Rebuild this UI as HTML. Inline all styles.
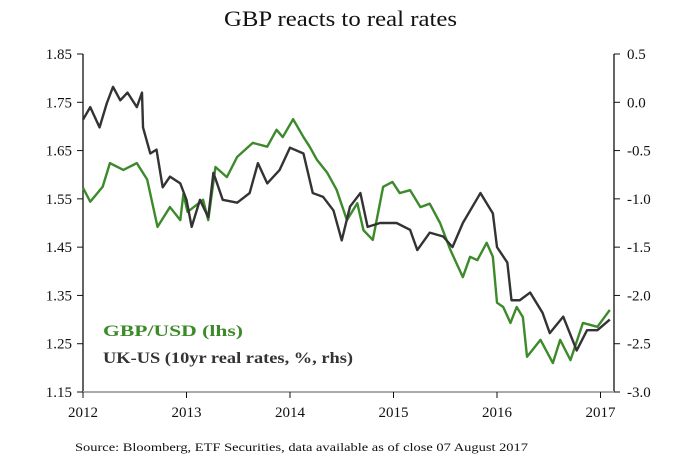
<!DOCTYPE html>
<html><head><meta charset="utf-8"><style>
body{margin:0;background:#fff;}
svg text{font-family:"Liberation Serif",serif;}
</style></head><body>
<svg width="683" height="468" xmlns="http://www.w3.org/2000/svg">
<text x="224" y="26" textLength="233" lengthAdjust="spacingAndGlyphs" font-size="22" fill="#111">GBP reacts to real rates</text>
<g id="axes"></g>
<g id="series"></g>
<text x="103" y="336" textLength="140" lengthAdjust="spacingAndGlyphs" font-size="16" font-weight="bold" fill="#3c8a2a">GBP/USD (lhs)</text>
<text x="103" y="363" textLength="250" lengthAdjust="spacingAndGlyphs" font-size="16" font-weight="bold" fill="#333">UK-US (10yr real rates, %, rhs)</text>
<text x="75" y="451" textLength="453" lengthAdjust="spacingAndGlyphs" font-size="12" fill="#111">Source: Bloomberg, ETF Securities, data available as of close 07 August 2017</text>
</svg>
<script>
const xTicks=[2012,2013,2014,2015,2016,2017];
const leftTicks=[1.15,1.25,1.35,1.45,1.55,1.65,1.75,1.85];
const rightTicks=[-3.0,-2.5,-2.0,-1.5,-1.0,-0.5,0.0,0.5];
const gbpDates=[2012.00,2012.07,2012.19,2012.26,2012.39,2012.52,2012.62,2012.72,2012.84,2012.94,2012.97,2013.01,2013.16,2013.21,2013.28,2013.39,2013.49,2013.64,2013.78,2013.87,2013.93,2014.03,2014.13,2014.19,2014.26,2014.36,2014.45,2014.55,2014.65,2014.71,2014.80,2014.90,2014.99,2015.06,2015.16,2015.26,2015.35,2015.45,2015.55,2015.67,2015.74,2015.81,2015.90,2015.96,2016.00,2016.06,2016.13,2016.19,2016.25,2016.29,2016.42,2016.54,2016.61,2016.71,2016.83,2016.97,2017.09];
const gbpValues=[1.573,1.544,1.575,1.624,1.61,1.624,1.59,1.492,1.533,1.506,1.56,1.523,1.548,1.506,1.616,1.595,1.637,1.666,1.658,1.693,1.678,1.715,1.678,1.658,1.631,1.604,1.569,1.506,1.541,1.485,1.465,1.575,1.585,1.562,1.568,1.533,1.54,1.50,1.444,1.388,1.43,1.423,1.459,1.43,1.335,1.326,1.293,1.326,1.305,1.223,1.258,1.21,1.258,1.216,1.293,1.285,1.32];
const rateDates=[2012.00,2012.07,2012.16,2012.23,2012.29,2012.36,2012.43,2012.52,2012.57,2012.58,2012.65,2012.71,2012.77,2012.84,2012.94,2013.00,2013.05,2013.13,2013.21,2013.26,2013.35,2013.49,2013.61,2013.69,2013.78,2013.90,2014.00,2014.13,2014.22,2014.32,2014.42,2014.50,2014.58,2014.68,2014.75,2014.87,2015.03,2015.16,2015.23,2015.35,2015.48,2015.57,2015.67,2015.84,2015.96,2016.00,2016.10,2016.14,2016.22,2016.32,2016.44,2016.51,2016.64,2016.77,2016.87,2016.97,2017.09];
const rateValues=[-0.18,-0.05,-0.26,-0.01,0.16,0.02,0.10,-0.05,0.10,-0.26,-0.53,-0.49,-0.88,-0.77,-0.84,-1.01,-1.29,-1.01,-1.19,-0.73,-1.01,-1.04,-0.94,-0.63,-0.84,-0.70,-0.47,-0.53,-0.94,-0.98,-1.12,-1.43,-1.08,-0.94,-1.29,-1.25,-1.25,-1.32,-1.53,-1.35,-1.39,-1.50,-1.25,-0.94,-1.15,-1.50,-1.66,-2.05,-2.05,-1.97,-2.18,-2.39,-2.22,-2.57,-2.36,-2.36,-2.25];
const NS="http://www.w3.org/2000/svg";
const X0=83,X1=614,Y0=54,Y1=392;
const xs=d=>X0+(d-2012)*103.5;
const yl=v=>Y0+(1.85-v)/(0.7)*(Y1-Y0);
const yr=v=>Y0+(0.5-v)/(3.5)*(Y1-Y0);
function mk(tag,attrs,parent){const e=document.createElementNS(NS,tag);for(const k in attrs)e.setAttribute(k,attrs[k]);parent.appendChild(e);return e;}
const ax=document.getElementById('axes');
let e=mk('line',{x1:X0,y1:Y0,x2:X0,y2:Y1,stroke:'#111','stroke-width':1.3},ax);


e=mk('line',{x1:X1,y1:Y0,x2:X1,y2:Y1,stroke:'#111','stroke-width':1.3},ax);


e=mk('line',{x1:X0,y1:Y1,x2:X1,y2:Y1,stroke:'#aaa','stroke-width':2},ax);


leftTicks.forEach(v=>{const y=yl(v);
 mk('line',{x1:X0-6,y1:y,x2:X0,y2:y,stroke:'#111'},ax);
 const t=mk('text',{x:72,y:y+5,'text-anchor':'end','font-size':15,fill:'#111'},ax);t.textContent=v.toFixed(2);
 
 });
rightTicks.forEach(v=>{const y=yr(v);
 mk('line',{x1:X1,y1:y,x2:X1+6,y2:y,stroke:'#111'},ax);
 const t=mk('text',{x:627,y:y+5,'font-size':15,fill:'#111'},ax);t.textContent=v.toFixed(1);
 
 });
xTicks.forEach(v=>{const x=xs(v);
 mk('line',{x1:x,y1:Y1,x2:x,y2:Y1+6,stroke:'#111'},ax);
 const t=mk('text',{x:x,y:417,'text-anchor':'middle','font-size':15,fill:'#111'},ax);t.textContent=v;
 
 });
const sg=document.getElementById('series');
let p=mk('polyline',{points:gbpDates.map((d,i)=>xs(d)+','+yl(gbpValues[i])).join(' '),fill:'none',stroke:'#3c8a2a','stroke-width':2.4,'stroke-linejoin':'round'},sg);


p=mk('polyline',{points:rateDates.map((d,i)=>xs(d)+','+yr(rateValues[i])).join(' '),fill:'none',stroke:'#333','stroke-width':2.4,'stroke-linejoin':'round'},sg);


</script>
</body></html>
